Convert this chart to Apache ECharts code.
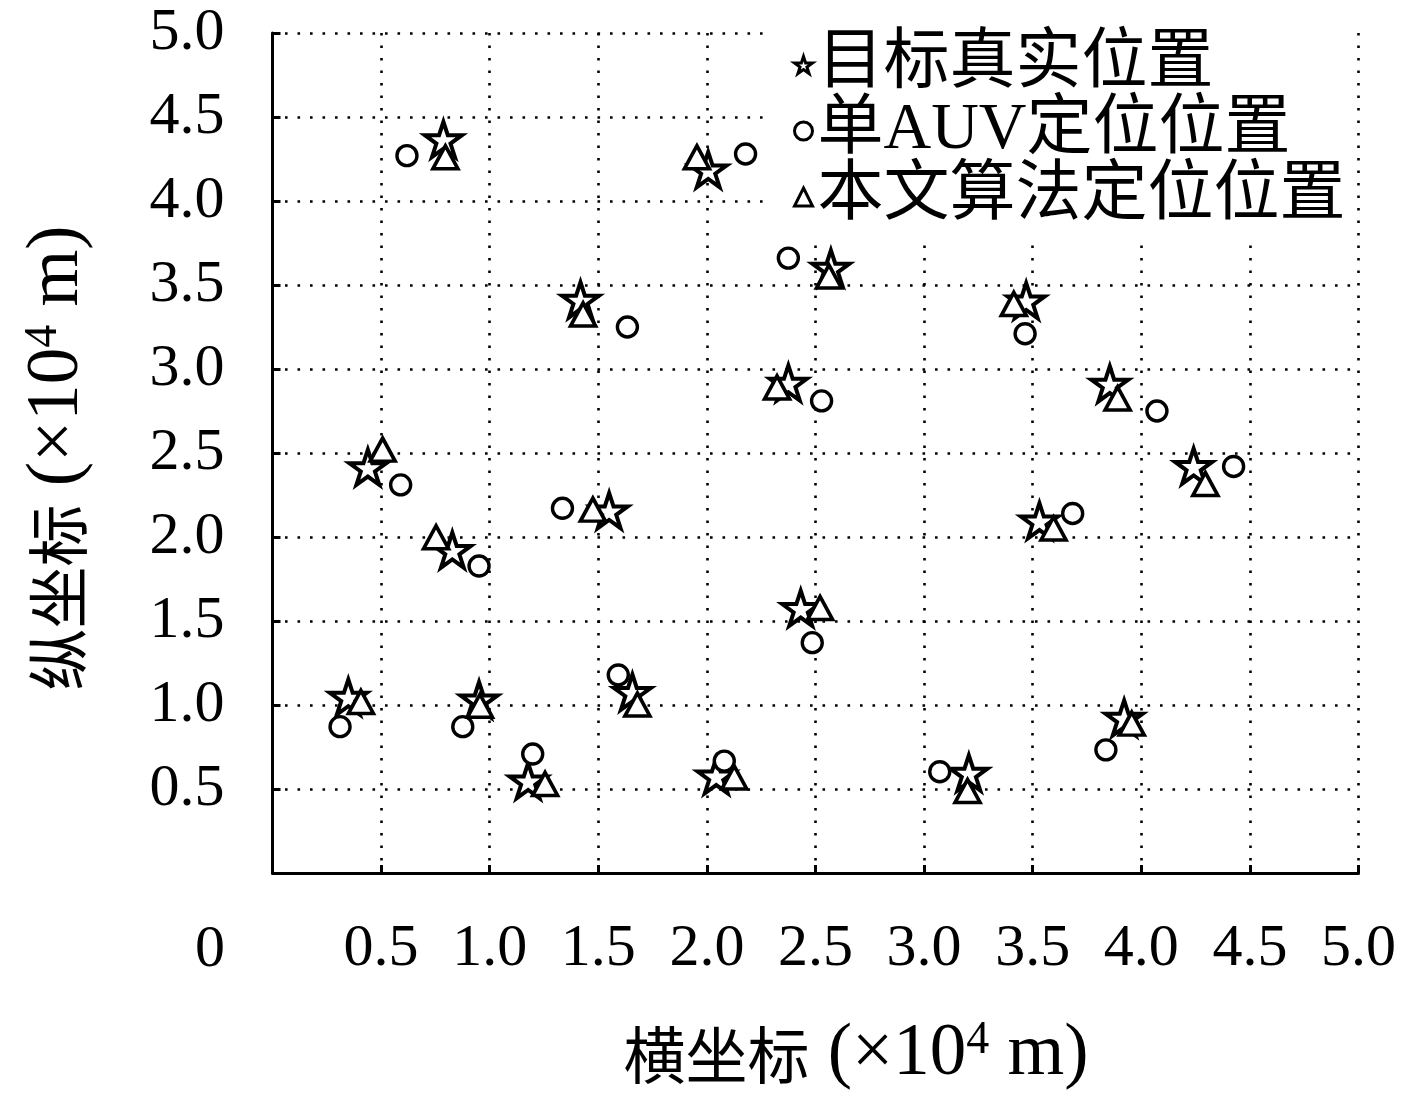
<!DOCTYPE html>
<html>
<head>
<meta charset="utf-8">
<script src="https://cdn.jsdelivr.net/npm/echarts@6/dist/echarts.min.js"></script>
<style>
html,body{margin:0;padding:0;background:#fff;}
#chart{width:1417px;height:1098px;}
</style>
</head>
<body>
<div id="chart"></div>
<script>
// ---- data (units: ×10^4 m) ----
var targetX = [0.787, 1.418, 2.006, 2.571, 3.470, 2.375, 3.855, 0.439, 0.828, 1.550, 4.241, 3.531, 2.432, 0.349, 0.951, 1.657, 1.177, 2.043, 3.206, 3.921];
var targetY = [4.355, 3.400, 4.175, 3.590, 3.395, 2.905, 2.900, 2.403, 1.910, 2.145, 2.410, 2.085, 1.564, 1.036, 1.020, 1.065, 0.538, 0.567, 0.584, 0.911];

var singleX = [0.619, 1.634, 2.178, 2.375, 3.465, 2.528, 4.072, 0.590, 0.951, 1.335, 4.425, 3.684, 2.485, 0.311, 0.876, 1.592, 1.198, 2.080, 3.072, 3.837];
var singleY = [4.270, 3.250, 4.280, 3.660, 3.210, 2.810, 2.750, 2.310, 1.827, 2.171, 2.420, 2.140, 1.371, 0.871, 0.871, 1.179, 0.708, 0.666, 0.603, 0.733];

var oursX = [0.796, 1.430, 1.954, 2.562, 3.413, 2.323, 3.891, 0.507, 0.753, 1.475, 4.295, 3.596, 2.521, 0.407, 0.955, 1.680, 1.255, 2.126, 3.200, 3.956];
var oursY = [4.260, 3.325, 4.260, 3.550, 3.387, 2.890, 2.825, 2.520, 1.998, 2.163, 2.315, 2.050, 1.577, 1.018, 0.995, 1.003, 0.530, 0.568, 0.488, 0.889];

var seriesNames = ['目标真实位置', '单AUV定位位置', '本文算法定位位置'];
var xTitle = '横坐标';
var yTitle = '纵坐标';
var unitPre = '(×10';
var unitExp = '4';
var unitPost = ' m)';
var originLabel = '0';

function pairs(xs, ys) { return xs.map(function (x, i) { return [x, ys[i]]; }); }

var starPath = 'path://M100 0 L122.45 69.1 L195.11 69.1 L136.33 111.8 L158.78 180.9 L100 138.2 L41.22 180.9 L63.67 111.8 L4.89 69.1 L77.55 69.1 Z';

var latin = "'Liberation Serif', 'Noto Sans CJK SC', serif";
var FS = 60;

var chart = echarts.init(document.getElementById('chart'), null, {renderer: 'canvas'});

function markStyle(bw) { return {color: '#fff', borderColor: '#000', borderWidth: bw, opacity: 1}; }

function axisCommon() {
  return {
    type: 'value', min: 0, max: 5, interval: 0.5,
    axisLine: {show: true, onZero: false, lineStyle: {color: '#000', width: 3}},
    axisTick: {show: true, inside: true, length: 8, lineStyle: {color: '#000', width: 3}},
    splitLine: {show: true, lineStyle: {color: '#000', width: 2.6, type: [2.6, 9.9]}},
    axisLabel: {
      color: '#000', fontFamily: latin, fontSize: FS,
      formatter: function (v) { return v === 0 ? '' : v.toFixed(1); }
    }
  };
}

var xAxis = axisCommon();
xAxis.axisLabel.margin = 46;
var yAxis = axisCommon();
yAxis.axisLabel.margin = 48;

var titleRich = {
  c: {fontFamily: "'Noto Sans CJK SC', sans-serif", fontSize: 62, lineHeight: 74, color: '#000'},
  a: {fontFamily: latin, fontSize: 73, lineHeight: 74, color: '#000'},
  s: {fontFamily: latin, fontSize: 46, lineHeight: 46, verticalAlign: 'top', color: '#000'}
};
function titleText(t) {
  return '{c|' + t + '}{a| ' + unitPre + '}{s|' + unitExp + '}{a|' + unitPost + '}';
}

var option = {
  animation: false,
  backgroundColor: '#fff',
  grid: {left: 272.5, top: 33, right: 58.5, bottom: 225, containLabel: false},
  xAxis: xAxis,
  yAxis: yAxis,
  legend: {
    orient: 'vertical',
    left: 772, top: 27,
    padding: [0, 8, 5, 21],
    backgroundColor: '#fff',
    itemWidth: 18, itemHeight: 18, itemGap: -10,
    itemStyle: {borderWidth: 3, opacity: 1},
    textStyle: {color: '#000', fontFamily: latin, fontSize: 66, lineHeight: 66, padding: [10, 0, 0, 0]},
    data: [
      {name: seriesNames[0], icon: starPath},
      {name: seriesNames[1], icon: 'circle'},
      {name: seriesNames[2], icon: 'triangle'}
    ]
  },
  series: [
    {
      name: seriesNames[0], type: 'scatter', data: pairs(targetX, targetY),
      symbol: starPath, symbolSize: 37, symbolKeepAspect: true, symbolOffset: [0, -2],
      itemStyle: markStyle(4), emphasis: {disabled: true}, z: 3
    },
    {
      name: seriesNames[1], type: 'scatter', data: pairs(singleX, singleY),
      symbol: 'circle', symbolSize: 20,
      itemStyle: markStyle(3.4), emphasis: {disabled: true}, z: 3
    },
    {
      name: seriesNames[2], type: 'scatter', data: pairs(oursX, oursY),
      symbol: 'triangle', symbolSize: [25, 23],
      itemStyle: markStyle(3.6), emphasis: {disabled: true}, z: 3
    }
  ],
  graphic: [
    {
      type: 'text', x: 210, y: 950,
      style: {text: originLabel, font: FS + 'px ' + latin, fill: '#000',
        textAlign: 'center', textVerticalAlign: 'middle', align: 'center', verticalAlign: 'middle'}
    },
    {
      type: 'text', x: 856, y: 1055,
      style: {
        text: titleText(xTitle), fill: '#000',
        textAlign: 'center', textVerticalAlign: 'middle', align: 'center', verticalAlign: 'middle',
        rich: titleRich
      }
    },
    {
      type: 'text', x: 58, y: 458, rotation: Math.PI / 2,
      style: {
        text: titleText(yTitle), fill: '#000',
        textAlign: 'center', textVerticalAlign: 'middle', align: 'center', verticalAlign: 'middle',
        rich: titleRich
      }
    }
  ]
};
chart.setOption(option);
</script>
</body>
</html>
